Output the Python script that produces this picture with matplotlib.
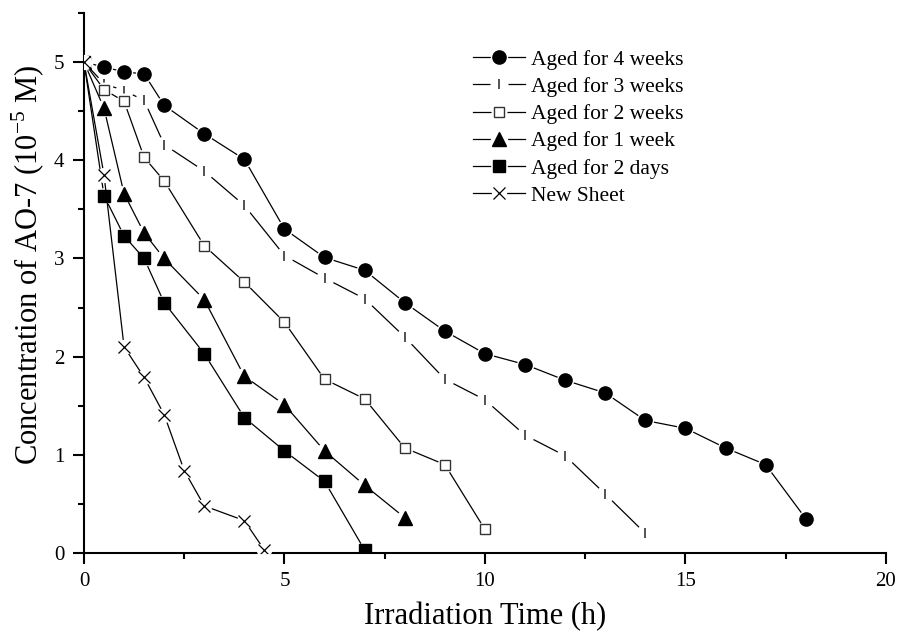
import matplotlib
matplotlib.use("Agg")
import matplotlib.pyplot as plt
from matplotlib.ticker import MultipleLocator
from matplotlib.legend_handler import HandlerTuple

plt.rcParams['font.family'] = ['Liberation Serif', 'DejaVu Serif']
plt.rcParams['mathtext.fontset'] = 'custom'
plt.rcParams['mathtext.rm'] = 'Liberation Serif'

# irradiation time (h) and AO-7 concentration (1e-5 M)
t_4w = [0, 0.5, 1, 1.5, 2, 3, 4, 5, 6, 7, 8, 9, 10, 11, 12, 13, 14, 15, 16, 17, 18]
c_4w = [5, 4.95, 4.90, 4.88, 4.56, 4.27, 4.01, 3.30, 3.01, 2.88, 2.55, 2.26, 2.03, 1.92, 1.76, 1.63, 1.35, 1.27, 1.07, 0.90, 0.35]

t_3w = [0, 0.5, 1, 1.5, 2, 3, 4, 5, 6, 7, 8, 9, 10, 11, 12, 13, 14]
c_3w = [5, 4.78, 4.71, 4.61, 4.16, 3.89, 3.54, 3.03, 2.80, 2.59, 2.20, 1.77, 1.56, 1.20, 0.99, 0.60, 0.20]

t_2w = [0, 0.5, 1, 1.5, 2, 3, 4, 5, 6, 7, 8, 9, 10]
c_2w = [5, 4.72, 4.60, 4.03, 3.79, 3.13, 2.76, 2.35, 1.77, 1.57, 1.07, 0.90, 0.24]

t_1w = [0, 0.5, 1, 1.5, 2, 3, 4, 5, 6, 7, 8]
c_1w = [5, 4.53, 3.66, 3.26, 3.00, 2.58, 1.80, 1.51, 1.04, 0.69, 0.36]

t_2d = [0, 0.5, 1, 1.5, 2, 3, 4, 5, 6, 7]
c_2d = [5, 3.64, 3.23, 3.00, 2.55, 2.03, 1.38, 1.04, 0.73, 0.03]

t_new = [0, 0.5, 1, 1.5, 2, 2.5, 3, 4, 4.5]
c_new = [5, 3.85, 2.10, 1.79, 1.41, 0.84, 0.48, 0.33, 0.03]

labels = ["Aged for 4 weeks", "Aged for 3 weeks", "Aged for 2 weeks",
          "Aged for 1 week", "Aged for 2 days", "New Sheet"]

fig = plt.figure(figsize=(9, 6.38), dpi=100)
ax = fig.add_axes([0.0933, 0.1332, 0.8911, 0.8464])

series = [
    (t_4w, c_4w, dict(marker='o', ms=9.5, mfc='black', mec='black'), 12.5),
    (t_3w, c_3w, dict(marker='|', ms=7, mfc='#444444', mec='#444444', mew=1.3), 13),
    (t_2w, c_2w, dict(marker='s', ms=7.8, mfc='white', mec='#333333', mew=1.0), 11.5),
    (t_1w, c_1w, dict(marker='^', ms=10, mfc='black', mec='black'), 12.5),
    (t_2d, c_2d, dict(marker='s', ms=8.4, mfc='black', mec='black'), 12),
    (t_new, c_new, dict(marker='x', ms=9, mfc='black', mec='black', mew=0.9), 11),
]

handles = []
for i, (t, c, style, gap) in enumerate(series):
    z = 2 + i * 0.1
    ax.plot(t, c, color='black', lw=0.9, zorder=z)
    # white halo so the line stops short of the symbol
    ax.plot(t, c, ls='none', marker='o', ms=gap, mfc='white', mec='none', zorder=z + 0.01)
    ax.plot(t, c, ls='none', zorder=z + 0.02, **style)
    l1, = ax.plot([], [], color='black', lw=0.9)
    l2, = ax.plot([], [], ls='none', marker='o', ms=gap, mfc='white', mec='none')
    l3, = ax.plot([], [], ls='none', **style)
    handles.append((l1, l2, l3))

ax.set_xlim(0, 20)
ax.set_ylim(0, 5.5)
ax.xaxis.set_major_locator(MultipleLocator(5))
ax.xaxis.set_minor_locator(MultipleLocator(2.5))
ax.yaxis.set_major_locator(MultipleLocator(1))
ax.yaxis.set_minor_locator(MultipleLocator(0.5))

for s in ['top', 'right']:
    ax.spines[s].set_visible(False)
for s in ['left', 'bottom']:
    ax.spines[s].set_linewidth(1.5)

ax.tick_params(which='major', direction='out', length=8, width=1.5, labelsize=15, pad=6)
ax.tick_params(which='minor', direction='out', length=4.5, width=1.5)

ax.set_xlabel("Irradiation Time (h)", fontsize=22)
ax.set_ylabel(r"Concentration of AO-7 (10$^{\mathrm{-5}}$ M)", fontsize=22)
ax.xaxis.set_label_coords(0.5, -0.09)
ax.yaxis.set_label_coords(-0.046, 0.534)

ax.legend(handles, labels, loc='upper left', bbox_to_anchor=(0.5256, 0.922),
          bbox_transform=fig.transFigure, frameon=False, fontsize=15.5,
          handler_map={tuple: HandlerTuple(ndivide=1, pad=0)},
          handlelength=2.4, handletextpad=0.3, labelspacing=0.33,
          borderpad=0, borderaxespad=0)

fig.savefig("out.png", dpi=100)
